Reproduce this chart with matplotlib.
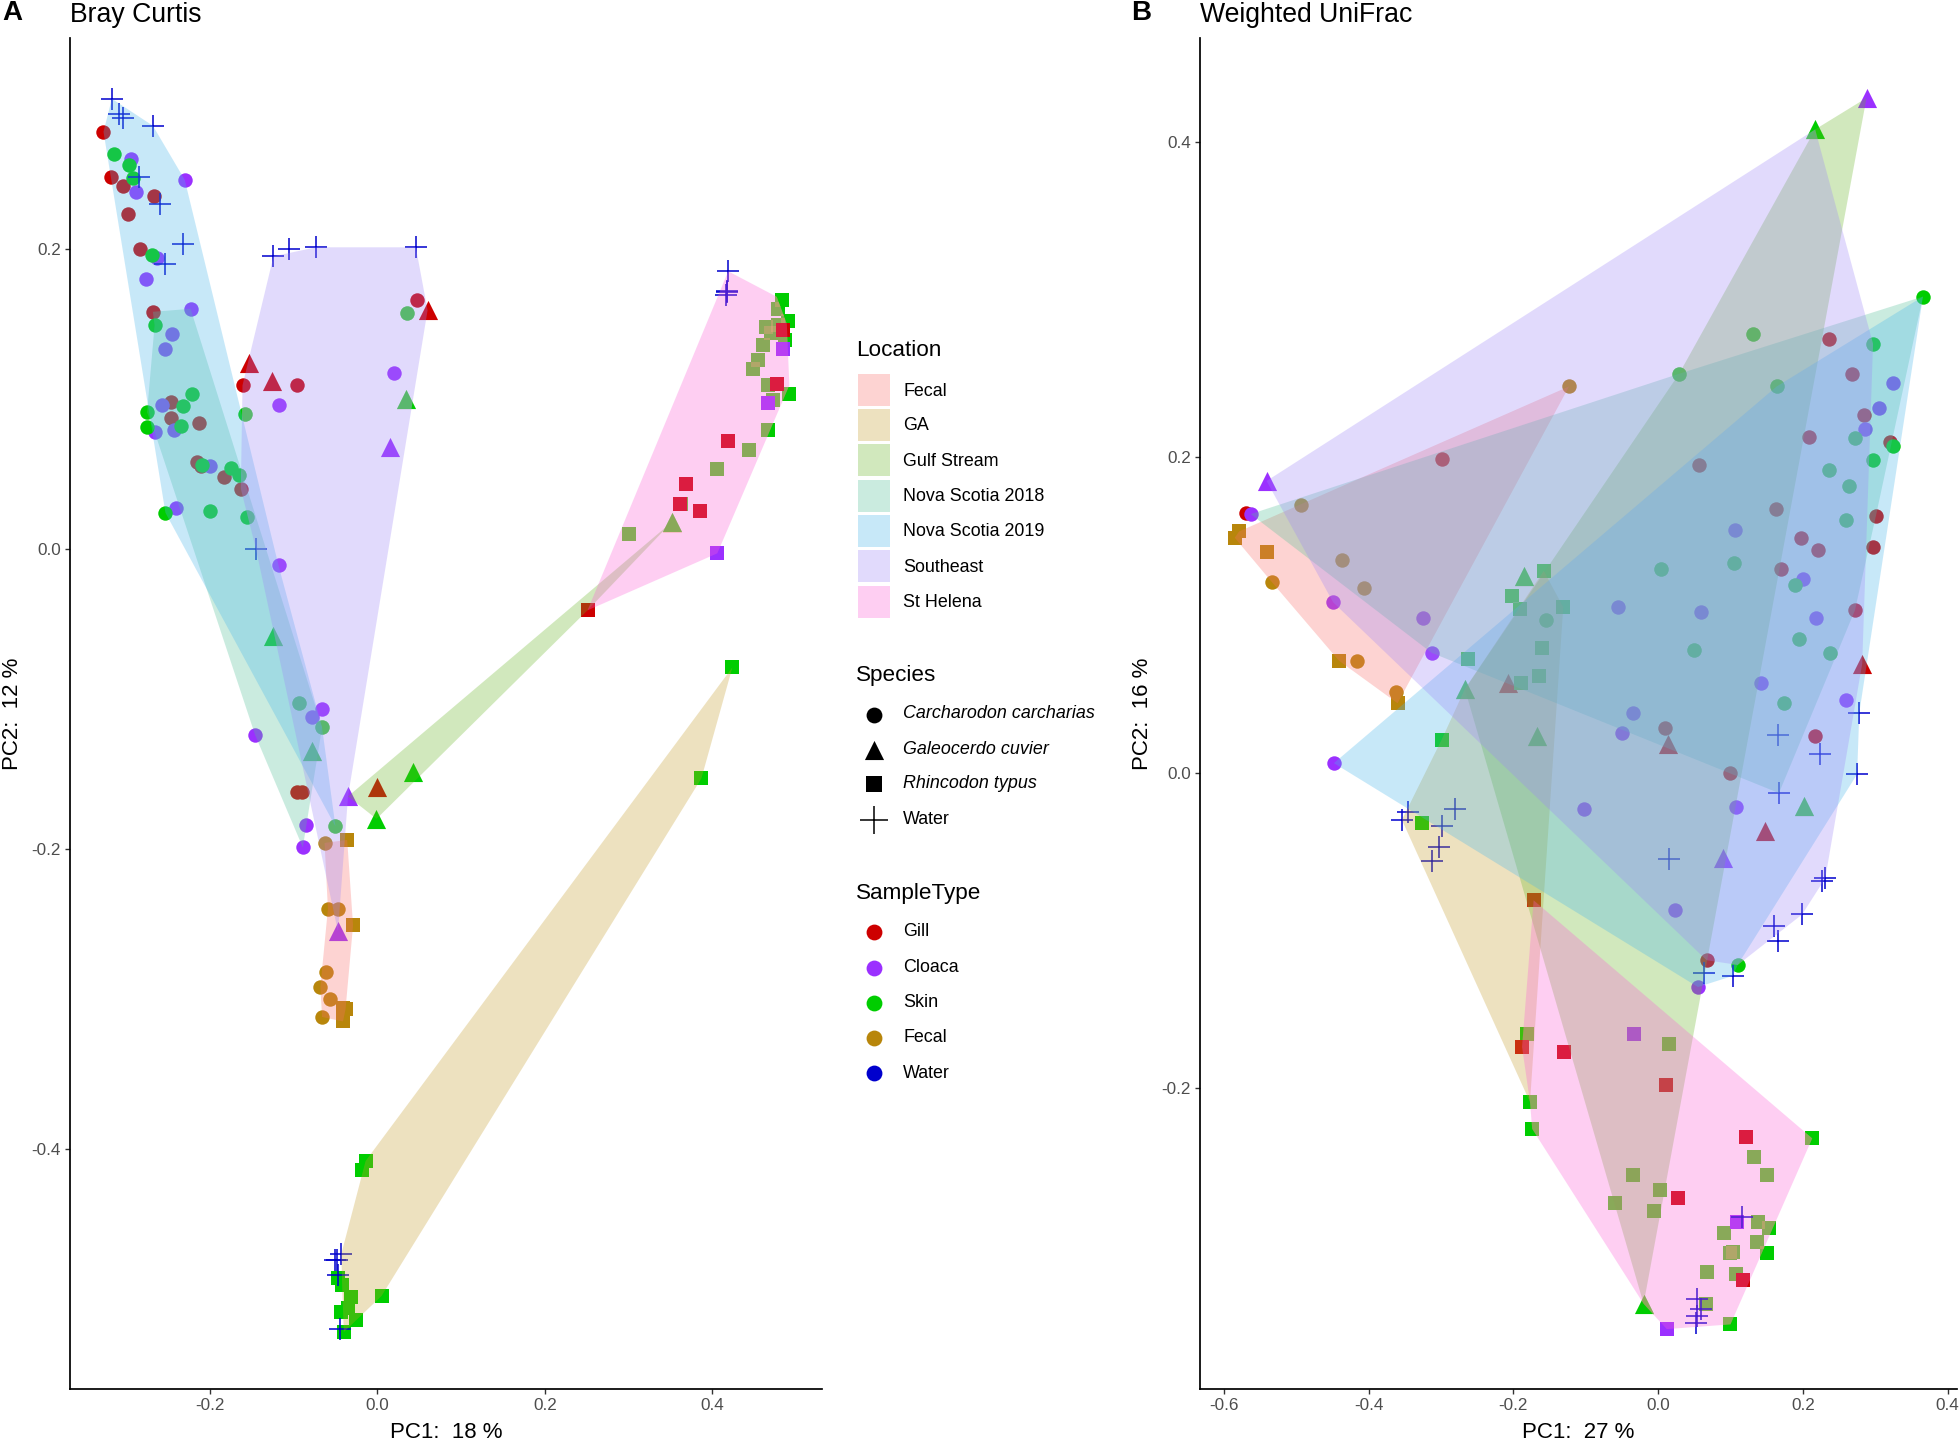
import matplotlib
matplotlib.use("Agg")
import matplotlib.pyplot as plt
from matplotlib.patches import Polygon, Rectangle
from matplotlib.path import Path

plt.rcParams['font.family'] = ['Liberation Sans', 'DejaVu Sans']
plt.rcParams['axes.unicode_minus'] = False

# ---------- legend categories ----------
LOCATIONS = ['Fecal', 'GA', 'Gulf Stream', 'Nova Scotia 2018', 'Nova Scotia 2019', 'Southeast', 'St Helena']
LOC_COLORS = ['#FA6F6A', '#C69E2D', '#69B626', '#52C098', '#48B6EB', '#9E87F8', '#FC5FD7']
SPECIES = ['Carcharodon carcharias', 'Galeocerdo cuvier', 'Rhincodon typus', 'Water']
SAMPLE_TYPES = ['Gill', 'Cloaca', 'Skin', 'Fecal', 'Water']
TYPE_COLORS = {'Gill': '#CD0000', 'Cloaca': '#9B30FF', 'Skin': '#00CD00', 'Fecal': '#B8860B', 'Water': '#0000CD'}

# ---------- Panel A: Bray Curtis ----------
A_C_GILL = [(-0.327,0.278),(-0.318,0.248),(-0.304,0.242),(-0.267,0.235),(-0.298,0.223),(-0.284,0.200),(-0.268,0.158),
            (0.047,0.166),(-0.161,0.109),(-0.096,0.109),(-0.246,0.098),(-0.246,0.087),(-0.213,0.084),(-0.215,0.058),
            (-0.210,0.055),(-0.183,0.048),(-0.163,0.040),(-0.096,-0.162),(-0.090,-0.162)]
A_C_SKIN = [(-0.315,0.263),(-0.297,0.256),(-0.292,0.247),(-0.269,0.196),(-0.266,0.149),(0.036,0.157),(-0.221,0.103),
            (-0.232,0.095),(-0.275,0.091),(-0.275,0.081),(-0.235,0.082),(-0.158,0.090),(-0.209,0.056),(-0.175,0.054),
            (-0.165,0.049),(-0.253,0.024),(-0.200,0.025),(-0.156,0.021),(-0.093,-0.103),(-0.066,-0.119),(-0.050,-0.185)]
A_C_CLOACA = [(-0.294,0.260),(-0.230,0.246),(-0.288,0.238),(-0.263,0.194),(-0.276,0.180),(-0.223,0.160),(-0.245,0.143),
              (-0.253,0.133),(0.020,0.117),(-0.118,0.096),(-0.257,0.096),(-0.266,0.078),(-0.243,0.079),(-0.200,0.055),
              (-0.241,0.027),(-0.118,-0.011),(-0.146,-0.124),(-0.066,-0.107),(-0.078,-0.112),(-0.085,-0.184),(-0.089,-0.199)]
A_C_FECAL = [(-0.063,-0.196),(-0.059,-0.240),(-0.047,-0.240),(-0.061,-0.282),(-0.068,-0.292),(-0.057,-0.300),(-0.066,-0.312)]
A_T_GILL = [(-0.153,0.124),(-0.126,0.112),(0.060,0.159),(0.000,-0.159)]
A_T_SKIN = [(0.034,0.100),(-0.124,-0.058),(-0.078,-0.135),(0.043,-0.149),(-0.001,-0.180),(0.352,0.018)]
A_T_CLOACA = [(0.015,0.068),(-0.035,-0.165),(-0.047,-0.255)]
A_S_FECAL = [(-0.036,-0.194),(-0.029,-0.251),(-0.038,-0.307),(-0.041,-0.306),(-0.041,-0.315)]
A_S_SKIN = [(-0.014,-0.408),(-0.018,-0.414),(0.005,-0.498),(-0.047,-0.486),(-0.042,-0.491),(-0.032,-0.499),(-0.043,-0.509),
            (-0.035,-0.506),(-0.026,-0.514),(-0.040,-0.522),(0.424,-0.079),(0.387,-0.153),(0.483,0.166),(0.490,0.152),
            (0.487,0.139),(0.492,0.103),(0.467,0.079),(0.479,0.160),(0.464,0.148),(0.479,0.149),(0.470,0.144),(0.461,0.136),
            (0.454,0.126),(0.449,0.120),(0.466,0.109),(0.473,0.099),(0.444,0.066),(0.406,0.053),(0.363,0.030),(0.300,0.010)]
A_S_GILL = [(0.361,0.030),(0.484,0.146),(0.477,0.110),(0.419,0.072),(0.369,0.043),(0.385,0.025),(0.251,-0.041)]
A_S_CLOACA = [(0.484,0.133),(0.466,0.097),(0.406,-0.003)]
A_WATER = [(-0.317,0.300),(-0.309,0.290),(-0.304,0.287),(-0.268,0.282),(-0.285,0.248),(-0.260,0.230),(-0.232,0.203),
           (-0.254,0.190),(-0.124,0.195),(-0.106,0.200),(-0.073,0.201),(0.046,0.201),(-0.145,0.000),(0.419,0.185),
           (0.417,0.172),(0.417,0.171),(0.416,0.169),(-0.043,-0.470),(-0.050,-0.474),(-0.048,-0.474),(-0.047,-0.484),(-0.044,-0.520)]

A_HULLS = {
    'Fecal': [(-0.063,-0.196),(-0.036,-0.194),(-0.029,-0.251),(-0.038,-0.307),(-0.041,-0.315),(-0.066,-0.312),(-0.068,-0.292),(-0.059,-0.240)],
    'GA': [(-0.014,-0.408),(0.424,-0.079),(0.387,-0.153),(0.005,-0.498),(-0.040,-0.522),(-0.042,-0.491),(-0.043,-0.470)],
    'Gulf Stream': [(-0.035,-0.165),(0.352,0.018),(0.251,-0.041),(-0.001,-0.180)],
    'Nova Scotia 2018': [(-0.268,0.158),(-0.223,0.160),(-0.066,-0.119),(-0.089,-0.199),(-0.146,-0.124),(-0.266,0.078),(-0.275,0.091),(-0.266,0.149)],
    'Nova Scotia 2019': [(-0.317,0.300),(-0.268,0.282),(-0.230,0.246),(-0.118,-0.011),(-0.066,-0.119),(-0.050,-0.185),(-0.253,0.024),(-0.327,0.278)],
    'Southeast': [(-0.124,0.195),(-0.073,0.201),(0.046,0.201),(0.060,0.159),(-0.035,-0.165),(-0.047,-0.255),(-0.145,0.000),(-0.163,0.040),(-0.161,0.109)],
    'St Helena': [(0.251,-0.041),(0.419,0.185),(0.477,0.168),(0.489,0.150),(0.492,0.109),(0.406,-0.003)],
}

# ---------- Panel B: Weighted UniFrac ----------
B_C_GILL = [(0.236,0.275),(0.268,0.253),(0.284,0.227),(0.320,0.210),(0.208,0.213),(0.056,0.195),(-0.299,0.199),(-0.569,0.165),
            (0.163,0.167),(0.301,0.163),(0.198,0.149),(0.221,0.141),(0.297,0.143),(0.170,0.129),(0.272,0.103),(0.010,0.028),
            (0.217,0.023),(0.099,0.000),(0.067,-0.119)]
B_C_SKIN = [(0.366,0.302),(0.131,0.278),(0.297,0.272),(0.029,0.253),(0.164,0.245),(0.325,0.207),(0.272,0.212),(0.297,0.198),
            (0.236,0.192),(0.264,0.182),(0.260,0.160),(0.004,0.129),(0.105,0.133),(0.189,0.119),(-0.155,0.097),(0.194,0.085),
            (0.050,0.078),(0.237,0.076),(0.174,0.044),(0.110,-0.122)]
B_C_CLOACA = [(0.325,0.247),(0.305,0.231),(0.286,0.218),(-0.563,0.164),(0.106,0.154),(0.200,0.123),(-0.449,0.108),(-0.055,0.105),
              (0.059,0.102),(0.218,0.098),(-0.325,0.098),(-0.313,0.076),(0.142,0.057),(0.260,0.046),(-0.035,0.038),(-0.050,0.025),
              (-0.448,0.006),(-0.102,-0.023),(0.108,-0.022),(0.024,-0.087),(0.055,-0.136)]
B_C_FECAL = [(-0.123,0.245),(-0.493,0.170),(-0.437,0.135),(-0.534,0.121),(-0.406,0.117),(-0.416,0.071),(-0.362,0.051)]
B_T_GILL = [(-0.208,0.057),(0.282,0.069),(0.014,0.018),(0.148,-0.037)]
B_T_SKIN = [(0.217,0.408),(-0.185,0.125),(-0.267,0.053),(-0.167,0.023),(0.202,-0.021),(-0.020,-0.337)]
B_T_CLOACA = [(0.288,0.428),(-0.541,0.185),(0.090,-0.054)]
B_S_FECAL = [(-0.579,0.153),(-0.585,0.149),(-0.541,0.140),(-0.441,0.071),(-0.360,0.044)]
B_S_SKIN = [(-0.158,0.128),(-0.202,0.112),(-0.191,0.104),(-0.131,0.105),(-0.160,0.079),(-0.262,0.072),(-0.165,0.061),(-0.190,0.057),
            (-0.299,0.021),(-0.326,-0.032),(-0.181,-0.166),(0.015,-0.172),(-0.177,-0.209),(-0.174,-0.226),(0.213,-0.232),
            (0.133,-0.244),(0.151,-0.255),(-0.035,-0.255),(0.002,-0.265),(-0.059,-0.273),(-0.005,-0.278),(0.138,-0.285),
            (0.153,-0.289),(0.091,-0.292),(0.136,-0.298),(0.103,-0.304),(0.100,-0.305),(0.150,-0.305),(0.067,-0.317),
            (0.107,-0.318),(0.066,-0.337),(0.100,-0.350)]
B_S_GILL = [(-0.172,-0.081),(-0.188,-0.174),(-0.130,-0.177),(0.011,-0.198),(0.122,-0.231),(0.028,-0.270),(0.117,-0.322)]
B_S_CLOACA = [(-0.034,-0.166),(0.109,-0.285),(0.012,-0.353)]
B_WATER = [(0.278,0.038),(0.166,0.024),(0.224,0.012),(0.275,-0.001),(0.167,-0.013),(-0.346,-0.025),(-0.354,-0.030),(-0.281,-0.023),
           (-0.299,-0.034),(-0.303,-0.047),(-0.313,-0.056),(0.015,-0.055),(0.231,-0.067),(0.226,-0.069),(0.199,-0.090),(0.160,-0.097),
           (0.166,-0.107),(0.063,-0.127),(0.103,-0.129),(0.116,-0.282),(0.054,-0.334),(0.059,-0.340),(0.054,-0.345),(0.052,-0.349)]

B_HULLS = {
    'Fecal': [(-0.123,0.245),(-0.579,0.153),(-0.585,0.149),(-0.534,0.121),(-0.441,0.071),(-0.360,0.044)],
    'GA': [(-0.158,0.128),(-0.131,0.105),(-0.177,-0.209),(-0.354,-0.030),(-0.299,0.021),(-0.267,0.053)],
    'Gulf Stream': [(0.217,0.408),(0.288,0.428),(-0.020,-0.337),(-0.267,0.053),(0.029,0.253)],
    'Nova Scotia 2018': [(-0.563,0.164),(0.029,0.253),(0.366,0.302),(0.301,0.163),(0.272,0.103),(0.167,-0.013),(-0.313,0.076)],
    'Nova Scotia 2019': [(0.366,0.302),(0.278,0.038),(0.275,-0.001),(0.110,-0.122),(0.103,-0.129),(0.055,-0.136),(-0.448,0.006),(0.164,0.245)],
    'Southeast': [(-0.541,0.185),(0.217,0.408),(0.297,0.272),(0.282,0.069),(0.231,-0.067),(0.199,-0.090),(0.110,-0.122),(0.067,-0.119),(-0.449,0.108)],
    'St Helena': [(-0.172,-0.081),(0.213,-0.232),(0.100,-0.350),(0.012,-0.353),(-0.020,-0.337),(-0.174,-0.226),(-0.177,-0.209),(-0.188,-0.174)],
}

# Colour shift of the green marks seen through a hull in the reference
SKIN_TINTS = {'St Helena': ('#FFC367', 0.35), 'Southeast': ('#F4D0CC', 0.25)}

# ---------- figure ----------
W, H = 1960, 1442
fig = plt.figure(figsize=(W / 100, H / 100), dpi=100, facecolor='white')


def make_axes(x0, x1, y0, y1):
    return fig.add_axes([x0 / W, 1 - y1 / H, (x1 - x0) / W, (y1 - y0) / H])


SIZES = {'o': 108, '^': 190, 's': 106, '+': 250}


def pts(ax, data, marker, key):
    xs = [p[0] for p in data]
    ys = [p[1] for p in data]
    col = TYPE_COLORS[key]
    lw = 1.1 if marker == '+' else 0
    ax.scatter(xs, ys, s=SIZES[marker], marker=marker, c=col, linewidths=lw, zorder=2, clip_on=False)


def skin(ax, data, marker, table):
    pts(ax, data, marker, 'Skin')
    for name, (tint, a) in SKIN_TINTS.items():
        sc = ax.scatter([p[0] for p in data], [p[1] for p in data], s=SIZES[marker], marker=marker,
                        c=tint, alpha=a, linewidths=0, zorder=2)
        sc.set_clip_path(Path(table[name] + table[name][:1]), ax.transData)


def hulls(ax, table):
    for name, col in zip(LOCATIONS, LOC_COLORS):
        ax.add_patch(Polygon(table[name], closed=True, facecolor=col, edgecolor='none', alpha=0.3, zorder=3))


def style(ax, xlim, ylim, xt, yt, xl, yl, title, ylabel_x, axw):
    ax.set_xlim(*xlim)
    ax.set_ylim(*ylim)
    ax.set_xticks(xt)
    ax.set_yticks(yt)
    ax.set_xticklabels([f'{v:.1f}' for v in xt])
    ax.set_yticklabels([f'{v:.1f}' for v in yt])
    ax.tick_params(length=3.5, width=1.0, color='#333333', labelcolor='#4D4D4D', labelsize=12.3, pad=3)
    for s in ('top', 'right'):
        ax.spines[s].set_visible(False)
    for s in ('left', 'bottom'):
        ax.spines[s].set_linewidth(1.25)
    ax.set_xlabel(xl, fontsize=16, va='center')
    ax.set_ylabel(yl, fontsize=16, va='center')
    ax.xaxis.set_label_coords(0.5, -(1433 - 1389) / 1351)
    ax.yaxis.set_label_coords(ylabel_x / axw, 0.5)
    ax.set_title(title, loc='left', fontsize=19.2, pad=0, y=1 + (38 - 15) / 1351, va='center')


# Panel A
axA = make_axes(70, 822, 38, 1389)
pts(axA, A_C_GILL, 'o', 'Gill')
pts(axA, A_C_CLOACA, 'o', 'Cloaca')
skin(axA, A_C_SKIN, 'o', A_HULLS)
pts(axA, A_C_FECAL, 'o', 'Fecal')
pts(axA, A_T_GILL, '^', 'Gill')
skin(axA, A_T_SKIN, '^', A_HULLS)
pts(axA, A_T_CLOACA, '^', 'Cloaca')
skin(axA, A_S_SKIN, 's', A_HULLS)
pts(axA, A_S_FECAL, 's', 'Fecal')
pts(axA, A_S_GILL, 's', 'Gill')
pts(axA, A_S_CLOACA, 's', 'Cloaca')
pts(axA, A_WATER, '+', 'Water')
hulls(axA, A_HULLS)
style(axA, (-0.367, 0.531), (-0.560, 0.3405), [-0.2, 0.0, 0.2, 0.4], [-0.4, -0.2, 0.0, 0.2],
      'PC1:  18 %', 'PC2:  12 %', 'Bray Curtis', -(70 - 13), 752)

# Panel B
axB = make_axes(1200, 1957, 38, 1389)
pts(axB, B_C_GILL, 'o', 'Gill')
pts(axB, B_C_CLOACA, 'o', 'Cloaca')
skin(axB, B_C_SKIN, 'o', B_HULLS)
pts(axB, B_C_FECAL, 'o', 'Fecal')
pts(axB, B_T_GILL, '^', 'Gill')
skin(axB, B_T_SKIN, '^', B_HULLS)
pts(axB, B_T_CLOACA, '^', 'Cloaca')
skin(axB, B_S_SKIN, 's', B_HULLS)
pts(axB, B_S_FECAL, 's', 'Fecal')
pts(axB, B_S_GILL, 's', 'Gill')
pts(axB, B_S_CLOACA, 's', 'Cloaca')
pts(axB, B_WATER, '+', 'Water')
hulls(axB, B_HULLS)
style(axB, (-0.633, 0.413), (-0.391, 0.466), [-0.6, -0.4, -0.2, 0.0, 0.2, 0.4], [-0.2, 0.0, 0.2, 0.4],
      'PC1:  27 %', 'PC2:  16 %', 'Weighted UniFrac', -(1200 - 1142), 757)

# Overlay in pixel coordinates for tags and the legends
ov = fig.add_axes([0, 0, 1, 1], facecolor='none')
ov.set_xlim(0, W)
ov.set_ylim(H, 0)
ov.axis('off')
ov.text(2, 13, 'A', fontsize=20, fontweight='bold', va='center', ha='left')
ov.text(1131, 13, 'B', fontsize=20, fontweight='bold', va='center', ha='left')

TITLE_FS, LABEL_FS = 16.2, 12.9
ov.text(856, 351, 'Location', fontsize=TITLE_FS, va='center')
loc_rows = [390, 425, 460, 495.5, 530.5, 566, 601.5]
for name, col, y in zip(LOCATIONS, LOC_COLORS, loc_rows):
    ov.add_patch(Rectangle((858, y - 16), 32, 32, facecolor=col, edgecolor='none', alpha=0.3))
    ov.text(903, y + 1, name, fontsize=LABEL_FS, va='center')

ov.text(856, 675, 'Species', fontsize=TITLE_FS, va='center')
sp_rows = [714.5, 749.5, 784, 820]
sp_marks = ['o', '^', 's', '+']
sp_sizes = [130, 190, 130, 420]
for name, m, sz, y in zip(SPECIES, sp_marks, sp_sizes, sp_rows):
    lw = 1.1 if m == '+' else 0
    ov.scatter([874], [y], s=sz, marker=m, c='black', linewidths=lw)
    ov.text(903, y - 0.5, name, fontsize=LABEL_FS, va='center', style='normal' if name == 'Water' else 'italic')

ov.text(856, 894, 'SampleType', fontsize=TITLE_FS, va='center')
st_rows = [932, 967.5, 1002.5, 1037.5, 1073]
for name, y in zip(SAMPLE_TYPES, st_rows):
    ov.scatter([874], [y], s=130, marker='o', c=TYPE_COLORS[name], linewidths=0)
    ov.text(903, y, name, fontsize=LABEL_FS, va='center')

fig.savefig('out.png', dpi=100, facecolor='white')
